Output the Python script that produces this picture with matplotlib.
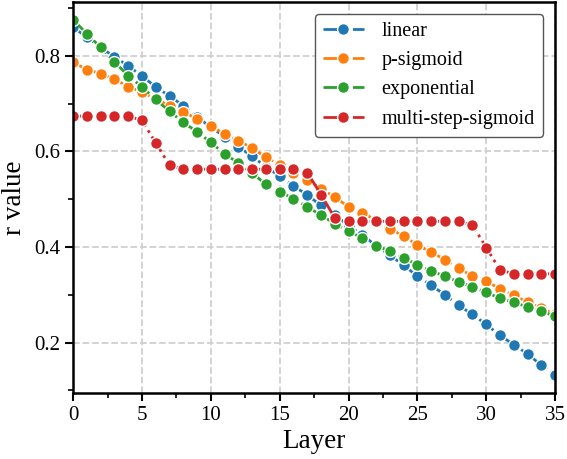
import numpy as np
import matplotlib.pyplot as plt
from matplotlib.ticker import MultipleLocator

plt.rcParams['font.family'] = ['Liberation Serif', 'DejaVu Serif']
plt.rcParams['mathtext.fontset'] = 'stix'

# data
layers = list(range(36))
linear = [0.860, 0.839, 0.818, 0.798, 0.779, 0.758, 0.735, 0.716, 0.696, 0.672,
          0.651, 0.631, 0.610, 0.590, 0.568, 0.548, 0.528, 0.509, 0.487, 0.467,
          0.445, 0.425, 0.403, 0.383, 0.362, 0.339, 0.320, 0.300, 0.278, 0.259,
          0.238, 0.215, 0.196, 0.176, 0.153, 0.132]
p_sigmoid = [0.787, 0.771, 0.763, 0.751, 0.736, 0.724, 0.710, 0.696, 0.682, 0.669,
             0.654, 0.636, 0.623, 0.607, 0.588, 0.572, 0.555, 0.541, 0.522, 0.505,
             0.484, 0.472, 0.456, 0.438, 0.423, 0.404, 0.390, 0.373, 0.356, 0.339,
             0.328, 0.313, 0.299, 0.285, 0.272, 0.259]
exponential = [0.876, 0.846, 0.818, 0.787, 0.759, 0.735, 0.709, 0.684, 0.661, 0.641,
               0.619, 0.595, 0.576, 0.555, 0.531, 0.516, 0.501, 0.484, 0.467, 0.449,
               0.433, 0.419, 0.402, 0.392, 0.377, 0.363, 0.350, 0.339, 0.327, 0.317,
               0.305, 0.293, 0.284, 0.275, 0.266, 0.255]
multi_step = [0.674, 0.674, 0.674, 0.674, 0.674, 0.665, 0.618, 0.571, 0.563, 0.563,
              0.563, 0.563, 0.563, 0.563, 0.563, 0.563, 0.563, 0.556, 0.510, 0.461,
              0.454, 0.454, 0.454, 0.454, 0.454, 0.454, 0.454, 0.454, 0.454, 0.446,
              0.399, 0.352, 0.344, 0.344, 0.344, 0.344]

series = [("linear", linear, "#1f77b4"),
          ("p-sigmoid", p_sigmoid, "#ff7f0e"),
          ("exponential", exponential, "#2ca02c"),
          ("multi-step-sigmoid", multi_step, "#d62728")]

fig = plt.figure(figsize=(5.67, 4.59), dpi=100)
ax = fig.add_axes([0.129, 0.144, 0.850, 0.852])

for name, vals, col in series:
    ax.plot(layers, vals, linestyle='-.', color=col, linewidth=2.0,
            marker='o', markersize=8.5, markeredgecolor='white',
            markeredgewidth=1.0, label=name)

ax.set_xlim(0, 35)
ax.xaxis.set_major_locator(MultipleLocator(5))
ax.xaxis.set_minor_locator(MultipleLocator(2.5))
ax.yaxis.set_major_locator(MultipleLocator(0.2))
ax.yaxis.set_minor_locator(MultipleLocator(0.1))

ax.grid(True, which='major', linestyle='--', color='#d0d0d0', linewidth=1.3)
ax.set_axisbelow(True)

for sp in ax.spines.values():
    sp.set_linewidth(1.8)
    sp.set_color('black')

ax.tick_params(which='major', direction='out', length=6, width=1.5, labelsize=15)
ax.tick_params(which='minor', direction='out', length=3.5, width=1.2)

ax.set_xlabel("Layer", fontsize=19.5, labelpad=3)
ax.set_ylabel("r value", fontsize=19.5, labelpad=5)

leg = ax.legend(loc='upper right', fontsize=14.5, frameon=True, fancybox=True,
                edgecolor='#555555', framealpha=1.0, borderaxespad=0.6,
                handlelength=2.0, handletextpad=0.9, labelspacing=0.5)
leg.get_frame().set_linewidth(1.0)

plt.savefig("out.png", dpi=100)
